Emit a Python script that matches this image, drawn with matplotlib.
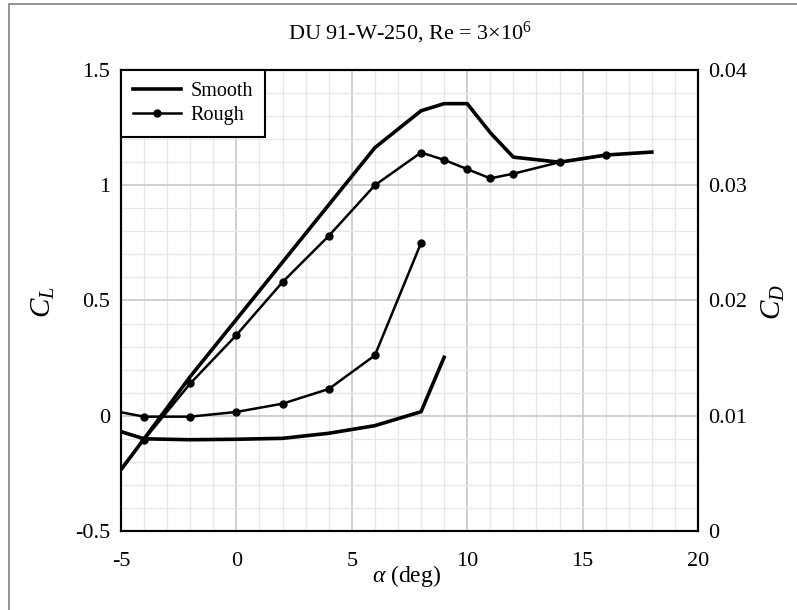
import matplotlib
matplotlib.use('Agg')
from matplotlib import pyplot as plt
from matplotlib.patches import Rectangle
from matplotlib.ticker import MultipleLocator, FuncFormatter

plt.rcParams['font.family'] = ['Liberation Serif', 'DejaVu Serif']
plt.rcParams['mathtext.fontset'] = 'custom'
plt.rcParams['mathtext.rm'] = 'Liberation Serif'
plt.rcParams['mathtext.it'] = 'Liberation Serif:italic'
plt.rcParams['axes.unicode_minus'] = False

# lift coefficient
alpha_cl_smooth = [-5, -4, -2, 6, 8, 9, 10, 11, 12, 14, 16, 18]
cl_smooth = [-0.234, -0.10, 0.17, 1.163, 1.323, 1.354, 1.354, 1.228, 1.122, 1.10, 1.131, 1.144]

alpha_cl_rough = [-4, -2, 0, 2, 4, 6, 8, 9, 10, 11, 12, 14, 16]
cl_rough = [-0.104, 0.14, 0.35, 0.58, 0.78, 1.00, 1.142, 1.11, 1.07, 1.03, 1.05, 1.10, 1.13]

# drag coefficient
alpha_cd_smooth = [-5, -4, -2, 0, 2, 4, 6, 8, 9]
cd_smooth = [0.00862, 0.0080, 0.00792, 0.00796, 0.00804, 0.00848, 0.00914, 0.01035, 0.01507]

alpha_cd_rough = [-5, -4, -2, 0, 2, 4, 6, 8]
cd_rough = [0.01030, 0.00992, 0.00992, 0.01033, 0.01105, 0.01232, 0.01524, 0.02499]

fig = plt.figure(figsize=(7.97, 6.10), dpi=100)
ax = fig.add_axes([121/797, 1-531/610, (698-121)/797, (531-70)/610])
ax2 = ax.twinx()

# frame round the figure (only left and top visible)
fig.patches.append(Rectangle((9/797, -0.1), 1.2, 1.1-4/610, transform=fig.transFigure,
                             fill=False, edgecolor='#808080', linewidth=1.2))

ax.set_xlim(-5, 20)
ax.set_ylim(-0.5, 1.5)
ax2.set_ylim(0, 0.04)

ax.xaxis.set_major_locator(MultipleLocator(5))
ax.xaxis.set_minor_locator(MultipleLocator(1))
ax.yaxis.set_major_locator(MultipleLocator(0.5))
ax.yaxis.set_minor_locator(MultipleLocator(0.1))
ax2.yaxis.set_major_locator(MultipleLocator(0.01))

ax.grid(which='major', color='#c8c8c8', linewidth=1.2)
ax.grid(which='minor', color='#e6e6e6', linewidth=0.9)
ax.set_axisbelow(True)

ax.tick_params(which='both', length=0, labelsize=16, pad=8)
ax.tick_params(axis='x', pad=15)
ax2.tick_params(which='both', length=0, labelsize=16, pad=7)

fmt = FuncFormatter(lambda v, p: '%g' % v)
ax.xaxis.set_major_formatter(fmt)
ax.yaxis.set_major_formatter(fmt)
ax2.yaxis.set_major_formatter(fmt)

for sp in list(ax.spines.values()) + list(ax2.spines.values()):
    sp.set_linewidth(1.5)
    sp.set_color('black')

l1, = ax.plot(alpha_cl_smooth, cl_smooth, color='black', linewidth=2.6, label='Smooth')
l2, = ax.plot(alpha_cl_rough, cl_rough, color='black', linewidth=1.8, marker='o',
              markersize=5, label='Rough')
ax2.plot(alpha_cd_smooth, cd_smooth, color='black', linewidth=2.6)
ax2.plot(alpha_cd_rough, cd_rough, color='black', linewidth=1.8, marker='o',
         markersize=5, markevery=range(1, len(alpha_cd_rough)))

leg = ax2.legend(handles=[l1, l2], loc='upper left', fontsize=14.5, frameon=True,
                 fancybox=False, borderaxespad=0, handlelength=2.4, handletextpad=0.45,
                 labelspacing=0.22, borderpad=0.6)
leg.get_frame().set_edgecolor('black')
leg.get_frame().set_linewidth(1.5)
leg.get_frame().set_alpha(1)

fig.text(409.5/797, 1-33/610, r'DU 91-W-250, Re = 3×10$^{6}$', ha='center', va='center', fontsize=16)
fig.text(407/797, 1-576/610, r'$\mathit{\alpha}$ (deg)', ha='center', va='center', fontsize=17)
fig.text(43/797, 1-302/610, r'$C_L$', ha='center', va='center', fontsize=21, rotation=90)
fig.text(773/797, 1-302/610, r'$C_D$', ha='center', va='center', fontsize=21, rotation=90)

fig.savefig('out.png', dpi=100)
